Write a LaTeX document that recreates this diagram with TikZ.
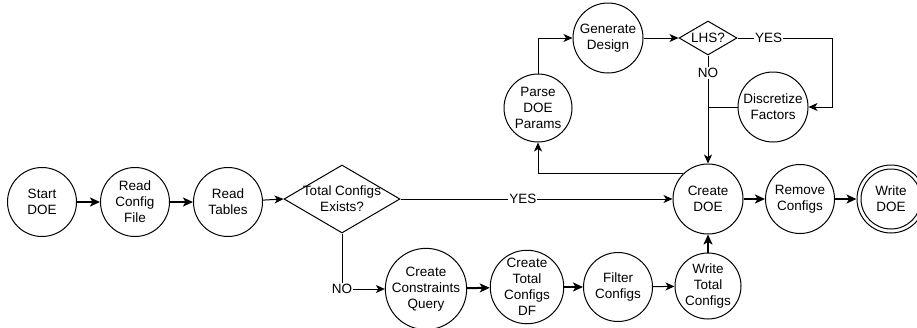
\documentclass[tikz,border=0pt]{standalone}
\usepackage{fontspec}
\setmainfont{Liberation Sans}
\usetikzlibrary{arrows.meta,shapes.geometric}

\begin{document}
\begin{tikzpicture}[x=1pt,y=-1pt,
  every node/.style={font=\fontsize{13.5}{16}\selectfont},
  state/.style={circle,draw,line width=1pt,minimum size=69pt,inner sep=0pt,align=center},
  decision/.style={diamond,draw,line width=1pt,inner sep=0pt},
  caption/.style={align=center,inner sep=0pt},
  lbl/.style={fill=white,inner sep=1pt},
  thin/.style={line width=1pt,-{Stealth[length=9pt,width=8pt,inset=2.5pt]}},
  thick/.style={line width=2pt,-{Stealth[length=10pt,width=9pt,inset=2.5pt]}},
  plain/.style={line width=1pt}]
\useasboundingbox (0,0) rectangle (917,327);

% main row
\node[state] (start)   at (42,202)  {Start\\DOE};
\node[state] (readcfg) at (135,202) {Read\\Config\\File};
\node[state] (readtab) at (228,202) {Read\\Tables};
\node[decision,minimum width=116pt,minimum height=68pt] (total) at (342,199) {};
\node[caption] (totaltext) at (total.center) {Total Configs\\Exists?};
\node[state,minimum size=70pt] (createdoe) at (708,199) {Create\\DOE};
\node[state] (remove)  at (800,199) {Remove\\Configs};
\node[state,minimum size=68pt] (writedoe) at (891,199) {Write\\DOE};
\draw[line width=1pt] (writedoe.center) circle (30pt);

% lower branch
\node[state,minimum size=76pt] (cq) at (426,289) {Create\\Constraints\\Query};
\node[state,minimum size=70pt] (ctdf) at (527,287) {Create\\Total\\Configs\\DF};
\node[state] (filter) at (618,287) {Filter\\Configs};
\node[state,minimum size=66pt] (wtc) at (708,286) {Write\\Total\\Configs};

% upper loop
\node[state,minimum size=68pt] (parse) at (538,108) {Parse\\DOE\\Params};
\node[state,minimum size=70pt] (gen) at (608,38) {Generate\\Design};
\node[decision,minimum width=58pt,minimum height=34pt] (lhs) at (708,38) {};
\node[caption] (lhstext) at (lhs.center) {LHS?};
\node[state,minimum size=70pt] (disc) at (773,107) {Discretize\\Factors};
\coordinate (yesturn) at (832,38);
\coordinate (join) at (708,107);

% connectors
\draw[thick] (start) -- (readcfg);
\draw[thick] (readcfg) -- (readtab);
\draw[thin] (readtab) -- (total.west);
\draw[thin] (total.east) -- node[lbl,pos=0.45]{YES} (createdoe.west);
\draw[thin] (total.south) |- node[lbl]{NO} (cq.west);
\draw[thick] (cq) -- (ctdf);
\draw[thick] (ctdf) -- (filter);
\draw[thin] (filter) -- (wtc);
\draw[thick] (wtc) -- (createdoe);
\draw[thick] (createdoe) -- (remove);
\draw[thick] (remove) -- (writedoe);

\draw[thin] (createdoe.134) -| (parse.south);
\draw[thin] (parse.north) |- (gen.west);
\draw[thin] (gen.east) -- (lhs.west);
\draw[thin] (lhs.east) -- node[lbl,pos=0.33]{YES} (yesturn) |- (disc.east);
\draw[thin] (lhs.south) -- node[lbl,pos=0.16]{NO} (createdoe.north);
\draw[plain] (disc.west) -- (join);
\end{tikzpicture}
\end{document}
